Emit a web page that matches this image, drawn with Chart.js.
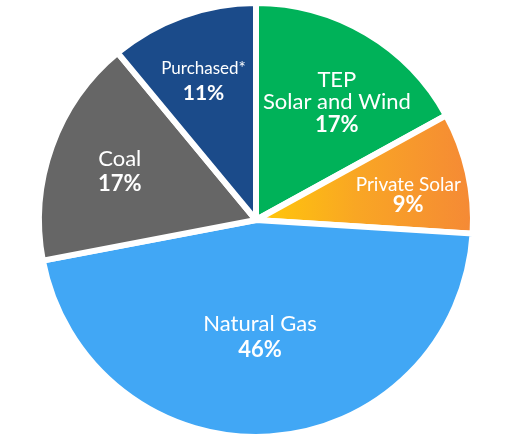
<!DOCTYPE html>
<html>
<head>
<meta charset="utf-8">
<script src="https://cdn.jsdelivr.net/npm/chart.js@4/dist/chart.umd.min.js"></script>
<style>
  html, body { margin: 0; padding: 0; background: #ffffff; }
  #wrap { width: 522px; height: 441px; position: relative; }
</style>
</head>
<body>
<div id="wrap"><canvas id="c" width="522" height="441"></canvas></div>
<script>
// ---- data ----
const categories = ['TEP Solar and Wind', 'Private Solar', 'Natural Gas', 'Coal', 'Purchased*'];
const labelLines = [['TEP', 'Solar and Wind'], ['Private Solar'], ['Natural Gas'], ['Coal'], ['Purchased*']];
const shares = [17, 9, 46, 17, 11];
const percentLabels = ['17%', '9%', '46%', '17%', '11%'];

// ---- styling ----
const colors = ['#00B259', null, '#41A7F5', '#666666', '#1B4B8A'];
const labelStyle = [
  { rf: 0.672, da: 3.6, pitch: 22.5, cap: 16, name: 22, pct: 22 },
  { rf: 0.722, da: 2.8, pitch: 20.7, cap: 15, name: 19, pct: 22 },
  { rf: 0.545, da: 1.6, pitch: 26,   cap: 15.7, name: 22, pct: 22 },
  { rf: 0.677, da: 0.1, pitch: 24.7, cap: 16, name: 22, pct: 22 },
  { rf: 0.694, da: -0.9, pitch: 26,  cap: 12.3, name: 17, pct: 21 }
];
const FONT = 'Lato, "Open Sans", sans-serif';

function bg(ctx) {
  const i = ctx.dataIndex;
  if (colors[i]) return colors[i];
  const ch = ctx.chart;
  const a = ch.chartArea;
  if (!a) return '#F7A02A';
  const cx = (a.left + a.right) / 2;
  const g = ch.ctx.createLinearGradient(cx + 8, 0, a.right - 6, 0);
  g.addColorStop(0, '#FFC60B');
  g.addColorStop(0.45, '#F9A624');
  g.addColorStop(1, '#F58A35');
  return g;
}

const labelPlugin = {
  id: 'sliceLabels',
  afterDatasetsDraw(chart) {
    const meta = chart.getDatasetMeta(0);
    const ctx = chart.ctx;
    ctx.save();
    ctx.fillStyle = '#ffffff';
    ctx.textAlign = 'center';
    ctx.textBaseline = 'alphabetic';
    meta.data.forEach((arc, i) => {
      const s = labelStyle[i];
      const p = arc.getProps(['x', 'y', 'startAngle', 'endAngle', 'outerRadius'], true);
      const mid = (p.startAngle + p.endAngle) / 2 + s.da * Math.PI / 180;
      const r = 214 * s.rf;
      const cx = p.x + Math.cos(mid) * r;
      const cy = p.y + Math.sin(mid) * r;
      const lines = labelLines[i].map(t => ({ t, bold: false, size: s.name }))
        .concat([{ t: percentLabels[i], bold: true, size: s.pct }]);
      const n = lines.length;
      let b = cy + s.cap / 2 - (n - 1) * s.pitch / 2;
      lines.forEach(l => {
        ctx.font = (l.bold ? 'bold ' : '') + l.size + 'px ' + FONT;
        ctx.fillText(l.t, cx, b);
        b += s.pitch;
      });
    });
    ctx.restore();
  }
};

new Chart(document.getElementById('c'), {
  type: 'pie',
  data: {
    labels: categories,
    datasets: [{
      data: shares,
      backgroundColor: bg,
      borderColor: '#ffffff',
      borderWidth: 6,
      borderAlign: 'center',
      hoverOffset: 0,
      offset: 0
    }]
  },
  options: {
    responsive: false,
    animation: false,
    layout: { padding: { left: 36, right: 46, top: 0, bottom: 1 } },
    plugins: {
      legend: { display: false },
      tooltip: { enabled: false }
    },
    events: []
  },
  plugins: [labelPlugin]
});
</script>
</body>
</html>
